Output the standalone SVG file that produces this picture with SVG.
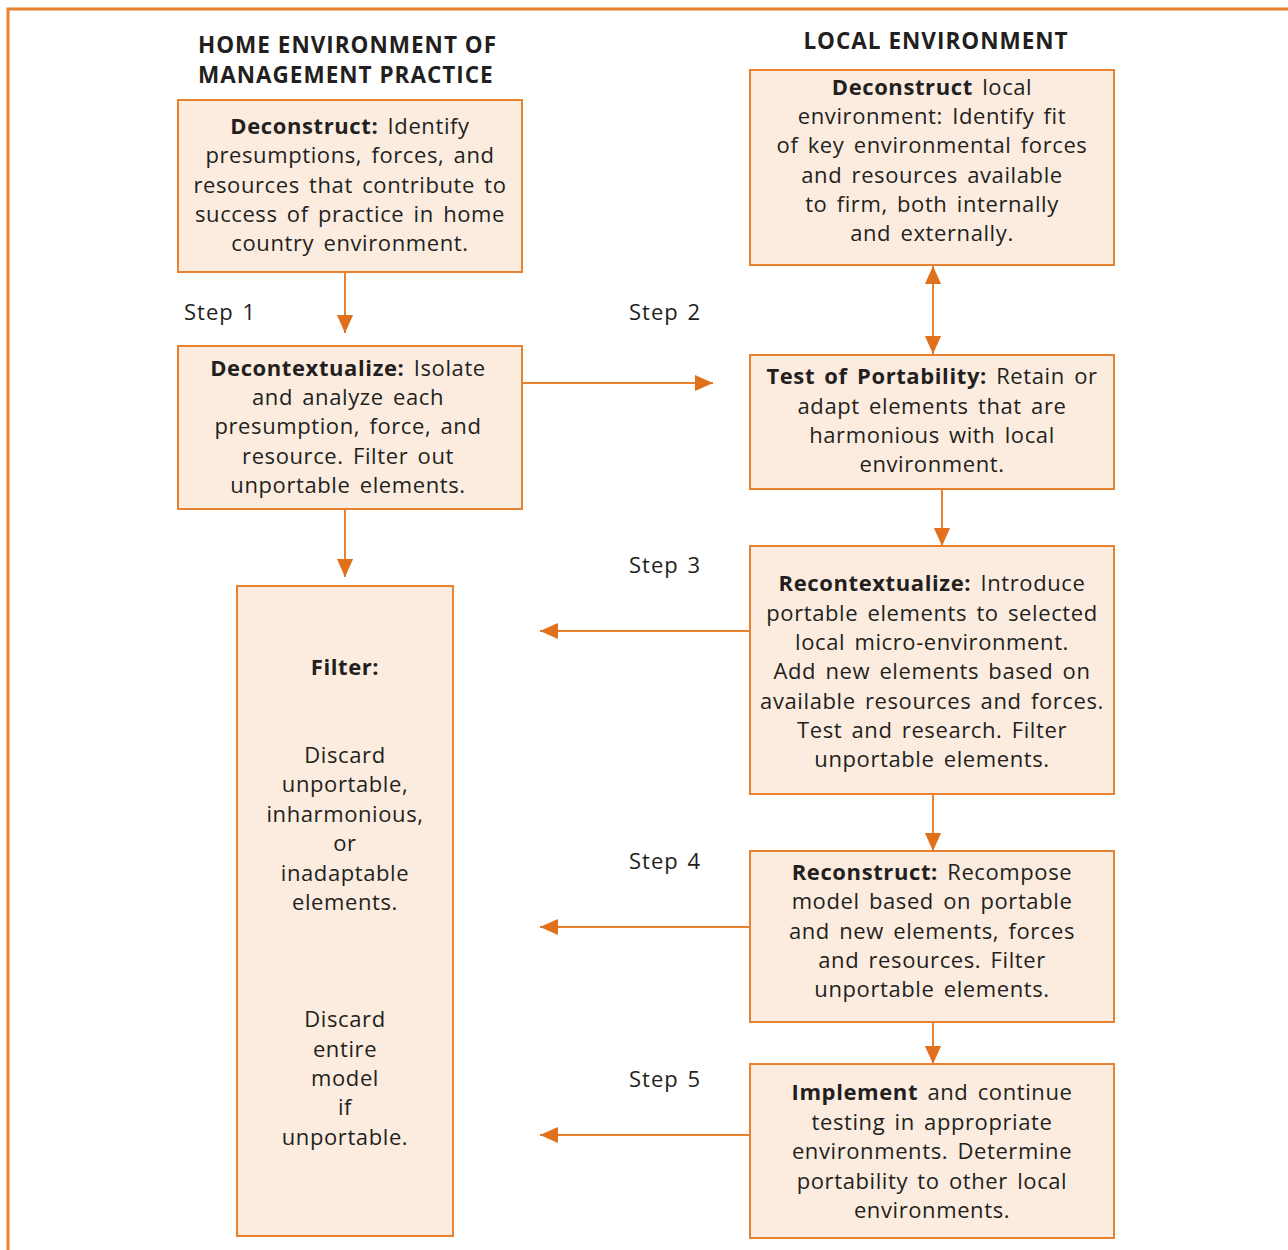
<svg xmlns="http://www.w3.org/2000/svg" width="1288" height="1250" viewBox="0 0 1288 1250">
<defs>
<style>
.box{fill:#FBECDF;stroke:#E8822E;stroke-width:2}
.t{font-family:"Open Sans","Noto Sans","DejaVu Sans",sans-serif;font-size:22px;letter-spacing:0.6px;word-spacing:3px;fill:#231F20;text-anchor:middle}
.b{font-weight:bold}
.h{font-family:"Open Sans","Noto Sans","DejaVu Sans",sans-serif;font-size:22.5px;letter-spacing:1px;font-weight:bold;fill:#231F20}
.s{font-family:"Open Sans","Noto Sans","DejaVu Sans",sans-serif;font-size:22px;letter-spacing:1px;word-spacing:2px;fill:#231F20}
.c{stroke:#E8822E;stroke-width:2;fill:none}
</style>
<marker id="ah2" viewBox="0 0 10 10" refX="10" refY="5" markerWidth="18" markerHeight="18" markerUnits="userSpaceOnUse" orient="auto-start-reverse">
<path d="M0,0.5 L10,5 L0,9.5 Z" fill="#E0701C"/>
</marker>
</defs>
<rect width="1288" height="1250" fill="#FFFFFF"/>
<path d="M8,1250 L8,9 L1288,9" fill="none" stroke="#E8822E" stroke-width="3"/>

<text class="h" x="198" y="53">HOME ENVIRONMENT OF</text>
<text class="h" x="198" y="83">MANAGEMENT PRACTICE</text>
<text class="h" x="936" y="49" text-anchor="middle">LOCAL ENVIRONMENT</text>

<text class="s" x="184" y="320">Step 1</text>
<text class="s" x="629" y="320">Step 2</text>
<text class="s" x="629" y="573">Step 3</text>
<text class="s" x="629" y="869">Step 4</text>
<text class="s" x="629" y="1087">Step 5</text>

<g id="connectors">
<line class="c" x1="345" y1="272" x2="345" y2="333" marker-end="url(#ah2)"/>
<line class="c" x1="522" y1="383" x2="713" y2="383" marker-end="url(#ah2)"/>
<line class="c" x1="933" y1="266" x2="933" y2="354" marker-start="url(#ah2)" marker-end="url(#ah2)"/>
<line class="c" x1="942" y1="489" x2="942" y2="546" marker-end="url(#ah2)"/>
<line class="c" x1="345" y1="509" x2="345" y2="577" marker-end="url(#ah2)"/>
<line class="c" x1="750" y1="631" x2="540" y2="631" marker-end="url(#ah2)"/>
<line class="c" x1="933" y1="794" x2="933" y2="851" marker-end="url(#ah2)"/>
<line class="c" x1="750" y1="927" x2="540" y2="927" marker-end="url(#ah2)"/>
<line class="c" x1="933" y1="1022" x2="933" y2="1064" marker-end="url(#ah2)"/>
<line class="c" x1="750" y1="1135" x2="540" y2="1135" marker-end="url(#ah2)"/>
</g>

<g id="home-deconstruct">
<rect class="box" x="178" y="100" width="344" height="172"/>
<text class="t" x="350" y="134"><tspan class="b">Deconstruct:</tspan> Identify</text>
<text class="t" x="350" y="163">presumptions, forces, and</text>
<text class="t" x="350" y="193">resources that contribute to</text>
<text class="t" x="350" y="222">success of practice in home</text>
<text class="t" x="350" y="251">country environment.</text>
</g>

<g id="decontextualize">
<rect class="box" x="178" y="346" width="344" height="163"/>
<text class="t" x="348" y="376"><tspan class="b">Decontextualize:</tspan> Isolate</text>
<text class="t" x="348" y="405">and analyze each</text>
<text class="t" x="348" y="434">presumption, force, and</text>
<text class="t" x="348" y="464">resource. Filter out</text>
<text class="t" x="348" y="493">unportable elements.</text>
</g>

<g id="filter">
<rect class="box" x="237" y="586" width="216" height="650"/>
<text class="t b" x="345" y="675">Filter:</text>
<text class="t" x="345" y="763">Discard</text>
<text class="t" x="345" y="792">unportable,</text>
<text class="t" x="345" y="822">inharmonious,</text>
<text class="t" x="345" y="851">or</text>
<text class="t" x="345" y="881">inadaptable</text>
<text class="t" x="345" y="910">elements.</text>
<text class="t" x="345" y="1027">Discard</text>
<text class="t" x="345" y="1057">entire</text>
<text class="t" x="345" y="1086">model</text>
<text class="t" x="345" y="1115">if</text>
<text class="t" x="345" y="1145">unportable.</text>
</g>

<g id="local-deconstruct">
<rect class="box" x="750" y="70" width="364" height="195"/>
<text class="t" x="932" y="95"><tspan class="b">Deconstruct</tspan> local</text>
<text class="t" x="932" y="124">environment: Identify fit</text>
<text class="t" x="932" y="153">of key environmental forces</text>
<text class="t" x="932" y="183">and resources available</text>
<text class="t" x="932" y="212">to firm, both internally</text>
<text class="t" x="932" y="241">and externally.</text>
</g>

<g id="test-portability">
<rect class="box" x="750" y="355" width="364" height="134"/>
<text class="t" x="932" y="384"><tspan class="b">Test of Portability:</tspan> Retain or</text>
<text class="t" x="932" y="414">adapt elements that are</text>
<text class="t" x="932" y="443">harmonious with local</text>
<text class="t" x="932" y="472">environment.</text>
</g>

<g id="recontextualize">
<rect class="box" x="750" y="546" width="364" height="248"/>
<text class="t" x="932" y="591"><tspan class="b">Recontextualize:</tspan> Introduce</text>
<text class="t" x="932" y="621">portable elements to selected</text>
<text class="t" x="932" y="650">local micro-environment.</text>
<text class="t" x="932" y="679">Add new elements based on</text>
<text class="t" x="932" y="709">available resources and forces.</text>
<text class="t" x="932" y="738">Test and research. Filter</text>
<text class="t" x="932" y="767">unportable elements.</text>
</g>

<g id="reconstruct">
<rect class="box" x="750" y="851" width="364" height="171"/>
<text class="t" x="932" y="880"><tspan class="b">Reconstruct:</tspan> Recompose</text>
<text class="t" x="932" y="909">model based on portable</text>
<text class="t" x="932" y="939">and new elements, forces</text>
<text class="t" x="932" y="968">and resources. Filter</text>
<text class="t" x="932" y="997">unportable elements.</text>
</g>

<g id="implement">
<rect class="box" x="750" y="1064" width="364" height="174"/>
<text class="t" x="932" y="1100"><tspan class="b">Implement</tspan> and continue</text>
<text class="t" x="932" y="1130">testing in appropriate</text>
<text class="t" x="932" y="1159">environments. Determine</text>
<text class="t" x="932" y="1189">portability to other local</text>
<text class="t" x="932" y="1218">environments.</text>
</g>
</svg>
